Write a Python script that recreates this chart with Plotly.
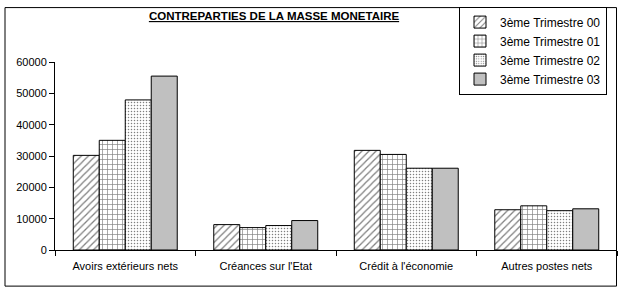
import plotly.graph_objects as go

categories = ["Avoirs extérieurs nets", "Créances sur l'Etat", "Crédit à l'économie", "Autres postes nets"]
series_names = ["3ème Trimestre 00", "3ème Trimestre 01", "3ème Trimestre 02", "3ème Trimestre 03"]
t3_00 = [30200, 8100, 31800, 12850]
t3_01 = [35000, 7150, 30500, 14100]
t3_02 = [47900, 7800, 26100, 12550]
t3_03 = [55500, 9400, 26100, 13150]
y_ticks = [0, 10000, 20000, 30000, 40000, 50000, 60000]
y_tick_labels = ["0", "10000", "20000", "30000", "40000", "50000", "60000"]

values = [t3_00, t3_01, t3_02, t3_03]
patterns = [
    dict(shape="/", size=5, solidity=0.25, fgcolor="black", bgcolor="white", fillmode="overlay"),
    dict(shape="+", size=5, solidity=0.25, fgcolor="black", bgcolor="white", fillmode="overlay"),
    dict(shape=".", size=3, solidity=0.2, fgcolor="black", bgcolor="white", fillmode="overlay"),
    dict(shape="", fgcolor="black", bgcolor="#C0C0C0"),
]
colors = ["white", "white", "white", "#C0C0C0"]

FONT = "Liberation Sans, Arial, sans-serif"
W, H = 624, 292
L, R, T, B = 55, 7, 60, 42
pw, ph = W - L - R, H - T - B

def px_x(x):
    return (x - L) / pw

def px_y(y):
    return (H - B - y) / ph

fig = go.Figure()
for name, vals, pat, col in zip(series_names, values, patterns, colors):
    fig.add_trace(go.Bar(
        x=categories, y=vals, name=name,
        marker=dict(color=col, pattern=pat, line=dict(color="black", width=1)),
    ))

fig.update_layout(
    width=W, height=H,
    margin=dict(l=L, r=R, t=T, b=B),
    paper_bgcolor="white", plot_bgcolor="white",
    barmode="group", bargap=0.26, bargroupgap=0,
    font=dict(family=FONT, size=11, color="black"),
    title=dict(text="<b><u>CONTREPARTIES DE LA MASSE MONETAIRE</u></b>",
               x=274 / W, xref="container", xanchor="center",
               y=1 - 16 / H, yref="container", yanchor="middle",
               font=dict(family=FONT, size=11.5, color="black")),
    legend=dict(x=px_x(607), xanchor="right", y=px_y(4), yanchor="top",
                bordercolor="black", borderwidth=1, bgcolor="white",
                font=dict(family=FONT, size=12, color="black"),
                traceorder="normal", itemwidth=30),
    showlegend=True,
)
fig.update_yaxes(range=[0, 60000], tickvals=y_ticks, ticktext=y_tick_labels,
                 showgrid=False, zeroline=False,
                 showline=True, linecolor="black", linewidth=1,
                 ticks="outside", ticklen=5, tickcolor="black",
                 tickfont=dict(family=FONT, size=11))
fig.update_xaxes(showgrid=False, showline=True, linecolor="black", linewidth=1,
                 ticks="outside", ticklen=5, tickcolor="black", tickson="boundaries",
                 ticklabelstandoff=6,
                 tickfont=dict(family=FONT, size=11))

fig.add_shape(type="rect", xref="paper", yref="paper",
              x0=px_x(5), x1=px_x(616.5), y0=px_y(286.5), y1=px_y(5),
              line=dict(color="black", width=1), fillcolor="rgba(0,0,0,0)", layer="below")

fig.write_html("out.html")
